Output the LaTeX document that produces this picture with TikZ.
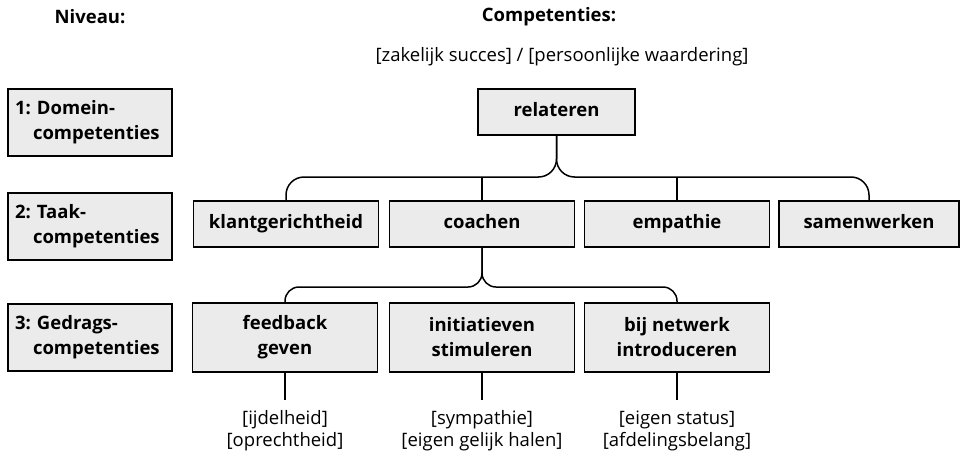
\documentclass[tikz,border=0pt]{standalone}
\usepackage{fontspec}
\setmainfont{Open Sans}
\definecolor{boxgray}{HTML}{EBEBEB}

\begin{document}
\begin{tikzpicture}[x=1pt,y=-1pt,line width=1.5pt,font=\fontsize{18.5}{24}\selectfont,
  box/.style={draw,fill=boxgray,font=\fontsize{18.5}{25}\selectfont\bfseries,align=center,inner sep=0pt},
  niv/.style={box,minimum width=164,minimum height=67,text width=150,inner xsep=7,align=left},
  topbox/.style={box,minimum width=185,minimum height=46,text height=13.5,text depth=4.5},
  gedrag/.style={box,minimum width=185,minimum height=69},
  note/.style={align=center,font=\fontsize{18.5}{22}\selectfont,inner xsep=0pt,inner ysep=10pt}]
  \useasboundingbox (0,0) rectangle (960,455);
  % headings
  \node[font=\fontsize{18.5}{24}\selectfont\bfseries] (hniv) at (90,17) {Niveau:};
  \node[font=\fontsize{18.5}{24}\selectfont\bfseries] (hcomp) at (549,17) {Competenties:};
  \node (hsub) at (562,57) {[zakelijk succes] / [persoonlijke waardering]};
  % levels
  \node[niv] (niv1) at (90,122.5) {1:\ Domein-\\\hspace*{18pt}competenties};
  \node[niv] (niv2) at (90,226.5) {2:\ Taak-\\\hspace*{18pt}competenties};
  \node[niv] (niv3) at (90,337.5) {3:\ Gedrags-\\\hspace*{18pt}competenties};
  % competences
  \node[topbox,minimum width=157] (rel) at (556.5,112) {relateren};
  \node[topbox] (klant) at (286,224) {klantgerichtheid};
  \node[topbox] (coach) at (482,224) {coachen};
  \node[topbox] (emp) at (677,224) {empathie};
  \node[topbox,minimum width=180] (samen) at (869,224) {samenwerken};
  \node[gedrag] (feed) at (285,337.5) {feedback\\geven};
  \node[gedrag] (init) at (482,337.5) {initiatieven\\stimuleren};
  \node[gedrag] (netw) at (677,337.5) {bij netwerk\\introduceren};
  \coordinate (hub1) at (rel.south |- 0,177);
  \coordinate (hub2) at (coach.south |- 0,287);
  % braces
  \draw[rounded corners=18] (klant.north) -- (klant.north |- hub1) -- (hub1) -- (rel.south);
  \draw[rounded corners=18] (rel.south) -- (hub1) -- (samen.north |- hub1) -- (samen.north);
  \draw (coach.north) -- (coach.north |- hub1);
  \draw (emp.north) -- (emp.north |- hub1);
  \draw[rounded corners=14] (feed.north) -- (feed.north |- hub2) -- (hub2) -- (coach.south);
  \draw[rounded corners=14] (coach.south) -- (hub2) -- (netw.north |- hub2) -- (netw.north);
  % reasons below
  \foreach \b/\t in {feed/{[ijdelheid]\\{}[oprechtheid]},init/{[sympathie]\\{}[eigen gelijk halen]},netw/{[eigen status]\\{}[afdelingsbelang]}}{
    \node[note,anchor=north] (\b txt) at ([yshift=-27]\b.south) {\t};
    \draw (\b.south) -- (\b txt.north);
  }
\end{tikzpicture}
\end{document}
